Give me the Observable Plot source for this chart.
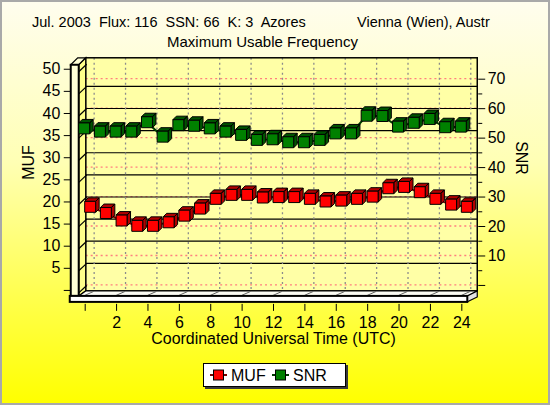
<!DOCTYPE html>
<html><head><meta charset="utf-8">
<script src="https://cdn.jsdelivr.net/npm/d3@7"></script>
<script src="https://cdn.jsdelivr.net/npm/@observablehq/plot@0.6"></script>
<style>
html,body{margin:0;padding:0;background:#fff;}
#chart{position:relative;width:550px;height:405px;box-sizing:border-box;border:2px solid #a9a9a9;
 background:linear-gradient(to bottom,#fffdee 0%,#ffffb4 40%,#ffff40 78%,#ffff00 100%);
 font-family:"Liberation Sans",Arial,sans-serif;overflow:hidden;}
.t{position:absolute;color:#000;white-space:pre;line-height:15px;}
#plot{position:absolute;left:-2px;top:-2px;}
#legend{position:absolute;left:201px;top:361px;width:141px;height:22px;background:#fff;border:1px solid #000;box-shadow:2px 2px 0 #3a3a3a;}
</style></head>
<body>
<div id="chart">
  <div class="t" id="t1" style="left:30px;top:13px;font-size:14.5px;"></div>
  <div class="t" id="t2" style="left:355px;top:13px;font-size:14.5px;"></div>
  <div class="t" id="t3" style="left:165px;top:32px;font-size:15px;"></div>
  <div id="plot"></div>
  <div id="legend"></div>
</div>
<script>
// ---- data ----
const titleLeft = "Jul. 2003  Flux: 116  SSN: 66  K: 3  Azores";
const titleRight = "Vienna (Wien), Austr";
const subtitle = "Maximum Usable Frequency";
const xTitle = "Coordinated Universal Time (UTC)";
const hours = [0,1,2,3,4,5,6,7,8,9,10,11,12,13,14,15,16,17,18,19,20,21,22,23,24];
const muf = [18.9,17.5,15.8,14.6,14.6,15.4,16.9,18.5,20.7,21.6,21.6,21.0,21.1,21.1,20.7,20.1,20.3,20.7,21.2,23.1,23.4,22.2,20.7,19.4,18.9];
const snr = [53.3,52.2,52.2,52.2,55.4,50.5,54.4,54.2,53.3,52.2,51.1,49.4,49.6,48.6,48.6,49.4,51.6,51.6,57.6,57.5,53.9,55.2,56.5,53.7,53.9];
const xTicks = [0,2,4,6,8,10,12,14,16,18,20,22,24];
const mufTicks = [0,5,10,15,20,25,30,35,40,45,50];
const snrTicks = [0,10,20,30,40,50,60,70];
const snrMinor = [5,15,25,35,45,55,65];
const seriesNames = ["MUF","SNR"];
const seriesColors = {MUF:"#ff0000", SNR:"#008000"};
const seriesDark = {MUF:"#b00000", SNR:"#005400"};
const seriesLine = {MUF:"#7a0000", SNR:"#003c00"};

// right (SNR) axis expressed in MUF units: level of SNR 0 and SNR 70
const snrLow = 1.13, snrHigh = 47.75;
const snrToMuf = s => snrLow + (snrHigh - snrLow) * s / 70;
const mufToSnr = m => (m - snrLow) * 70 / (snrHigh - snrLow);

document.getElementById("t1").textContent = titleLeft;
document.getElementById("t2").textContent = titleRight;
document.getElementById("t3").textContent = subtitle;

const mufData = hours.map((h,i) => ({h, v: muf[i]}));
const snrData = hours.map((h,i) => ({h, v: snrToMuf(snr[i])}));

// cube symbols
const cubeFront = {draw(ctx, size){ const s = Math.sqrt(size), h = s/2; ctx.rect(-h,-h,s,s); }};
const cubeBack = {draw(ctx, size){ const s = Math.sqrt(size), h = s/2, d = s*0.32;
  ctx.moveTo(-h,-h); ctx.lineTo(-h+d,-h-d); ctx.lineTo(h+d,-h-d); ctx.lineTo(h,-h); ctx.closePath();
  ctx.moveTo(h,-h); ctx.lineTo(h+d,-h-d); ctx.lineTo(h+d,h-d); ctx.lineTo(h,h); ctx.closePath(); }};
const R = 6.2;

// 3D box (walls, floor, grid) drawn through the scales
function frame3d(index, scales) {
  const x = scales.x, y = scales.y;
  const X0 = x(0), X1 = x(24), Y0 = y(0), Y1 = y(50);
  const L = X0 + 1, Rr = X1 + 16, T = Y1 - 11, B = Y0 + 1;
  const xa = X0 - 14, xb = X0 - 6, ft = Y1 - 4, fb = Y0 + 6, fbb = Y0 + 12;
  const g = d3.create("svg:g");
  g.append("rect").attr("x", L).attr("y", T).attr("width", Rr - L).attr("height", B - T).attr("fill", "#ffffa6");
  for (const s of snrTicks) {
    const yy = y(snrToMuf(s));
    g.append("line").attr("x1", L).attr("x2", Rr).attr("y1", yy).attr("y2", yy)
      .attr("stroke", "#ff7f7f").attr("stroke-width", 1.3).attr("stroke-dasharray", "2,3");
  }
  for (const m of mufTicks) {
    if (m === 0 || m === 50) continue;
    const yy = y(m) - 4.5;
    g.append("line").attr("x1", L).attr("x2", Rr).attr("y1", yy).attr("y2", yy)
      .attr("stroke", "#000").attr("stroke-width", 1.2);
  }
  for (const h of xTicks) {
    const xx = x(h) + 9.5;
    g.append("line").attr("x1", xx).attr("x2", xx).attr("y1", T).attr("y2", B)
      .attr("stroke", "#8c8c8c").attr("stroke-width", 1.3).attr("stroke-dasharray", "2,3");
  }
  g.append("rect").attr("x", L).attr("y", T).attr("width", Rr - L).attr("height", B - T)
    .attr("fill", "none").attr("stroke", "#000").attr("stroke-width", 1.5);
  g.append("path").attr("d", `M${xb},${ft}L${L},${T}L${L},${B}L${xb},${fb}Z`)
    .attr("fill", "#ffff8a").attr("stroke", "#000").attr("stroke-width", 1.2);
  for (const m of mufTicks) {
    g.append("line").attr("x1", xb).attr("y1", y(m) + 3).attr("x2", L + 1).attr("y2", y(m) - 4.5)
      .attr("stroke", "#000").attr("stroke-width", 1.2);
  }
  g.append("path").attr("d", `M${xa},${ft}L${xb},${ft}L${L},${T}L${L - 8},${T}Z`)
    .attr("fill", "#ffffd6").attr("stroke", "#000").attr("stroke-width", 1.2);
  g.append("rect").attr("x", xa).attr("y", ft).attr("width", xb - xa).attr("height", fb - ft)
    .attr("fill", "#ffffd6").attr("stroke", "#000").attr("stroke-width", 2);
  g.append("path").attr("d", `M${xb},${fb}L${X1 + 6},${fb}L${Rr},${B}L${L},${B}Z`)
    .attr("fill", "#fbfbf4").attr("stroke", "#000").attr("stroke-width", 1.2);
  for (const h of xTicks) {
    g.append("line").attr("x1", x(h)).attr("y1", fb - 0.5).attr("x2", x(h) + 9).attr("y2", B + 0.5)
      .attr("stroke", "#606060").attr("stroke-width", 1);
  }
  g.append("path").attr("d", `M${X1 + 6},${fb}L${Rr},${B}L${Rr},${B + 6}L${X1 + 6},${fbb}Z`)
    .attr("fill", "#e4e4e4").attr("stroke", "#000").attr("stroke-width", 1.2);
  g.append("rect").attr("x", X0 - 15).attr("y", fb).attr("width", X1 + 6 - (X0 - 15)).attr("height", fbb - fb)
    .attr("fill", "#ffffff").attr("stroke", "#000").attr("stroke-width", 2);
  return g.node();
}

function series(data, name, dx) {
  return [
    Plot.line(data, {x: "h", y: "v", stroke: seriesLine[name], strokeWidth: 2, dx}),
    Plot.dot(data, {x: "h", y: "v", r: R, symbol: cubeBack, fill: seriesDark[name], stroke: "#000", strokeWidth: 1, dx}),
    Plot.dot(data, {x: "h", y: "v", r: R, symbol: cubeFront, fill: seriesColors[name], stroke: "#000", strokeWidth: 1, dx})
  ];
}

const chart = Plot.plot({
  width: 550, height: 360,
  marginTop: 69, marginBottom: 69, marginLeft: 85, marginRight: 87,
  x: {domain: [0, 24]},
  y: {domain: [0, 50]},
  style: {background: "transparent", fontFamily: "'Liberation Sans', Arial, sans-serif", fontSize: "16px", overflow: "visible", color: "#000"},
  marks: [
    frame3d,
    Plot.axisY({anchor: "left", ticks: mufTicks, tickFormat: d => d === 0 ? "" : String(d), tickSize: 7, tickPadding: 4, dx: -14, label: null, fontSize: 16}),
    Plot.axisY({anchor: "right", ticks: snrTicks.map(snrToMuf), tickFormat: v => { const s = Math.round(mufToSnr(v)); return s === 0 ? "" : String(s); }, tickSize: 7, tickPadding: 3, dx: 16, label: null, fontSize: 16}),
    Plot.axisY({anchor: "right", ticks: snrMinor.map(snrToMuf), tickFormat: () => "", tickSize: 4, dx: 16, label: null}),
    Plot.axisX({ticks: xTicks, tickFormat: d => d === 0 ? "" : String(d), tickSize: 7, tickPadding: 5, dy: 14, label: null, fontSize: 16}),
    Plot.text([xTitle], {text: d => d, frameAnchor: "bottom", dy: 54, fontSize: 16}),
    Plot.text(["MUF"], {text: d => d, frameAnchor: "left", rotate: -90, dx: -57, fontSize: 16}),
    Plot.text(["SNR"], {text: d => d, frameAnchor: "right", rotate: 90, dx: 60, dy: -5, fontSize: 16}),
    ...series(snrData, "SNR", -1),
    ...series(mufData, "MUF", 5)
  ]
});
document.getElementById("plot").appendChild(chart);

// legend
const lg = d3.select("#legend").append("svg").attr("width", 141).attr("height", 22)
  .style("font-family", "'Liberation Sans', Arial, sans-serif").style("font-size", "16px");
const itemX = [6, 68];
seriesNames.forEach((n, i) => {
  const gx = itemX[i];
  const g = lg.append("g").attr("transform", `translate(${gx},11)`);
  g.append("line").attr("x1", 0).attr("x2", 17).attr("y1", 0).attr("y2", 0).attr("stroke", seriesLine[n]).attr("stroke-width", 2);
  g.append("rect").attr("x", 3.5).attr("y", -5).attr("width", 10).attr("height", 10).attr("fill", seriesColors[n]).attr("stroke", "#000").attr("stroke-width", 1);
  g.append("text").attr("x", 21).attr("y", 6).text(n);
});
</script>
</body></html>
